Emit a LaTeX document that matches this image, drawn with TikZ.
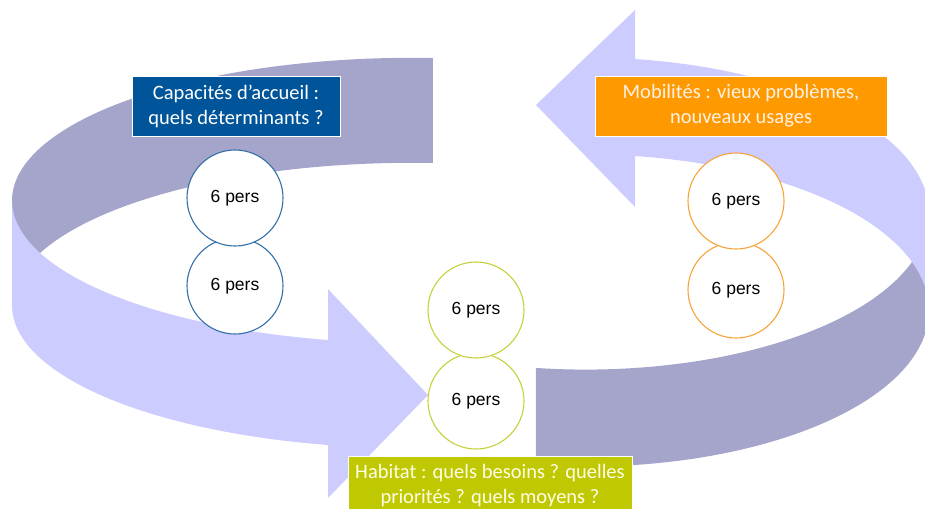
\documentclass[tikz,border=0pt]{standalone}
\usepackage{fontspec}
\setmainfont{Carlito}
\newfontfamily\arialfont{Liberation Sans}
\usepackage{xcolor}
\usepackage{tikz}
\definecolor{bandback}{HTML}{A5A4CA}
\definecolor{bandfront}{HTML}{CCCCFF}
\definecolor{accueilblue}{HTML}{00559A}
\definecolor{mobiorange}{HTML}{FF9900}
\definecolor{habigreen}{HTML}{BFC800}
\definecolor{ringblue}{HTML}{3470A8}
\definecolor{ringgreen}{HTML}{C6D03A}
\definecolor{ringorange}{HTML}{F8A33A}
\tikzstyle{theme}=[
    rectangle,
    draw=white,
    text centered,
    align=center,
    minimum height=60pt,
    inner sep=0pt,
    font=\fontsize{20.5}{25}\selectfont]
\tikzstyle{group}=[
    circle,
    draw,
    fill=white,
    line width=1.1pt,
    minimum size=96pt,
    inner sep=0pt,
    text=black,
    font=\arialfont\fontsize{17.5}{20}\selectfont]

\begin{document}
\begin{tikzpicture}[x=1pt,y=-1pt]
    \clip (0,0) rectangle (925,508);

    % left arrow: back side, then front side with head
    \fill[bandback] plot[domain=-87:-180,samples=60] ({412+400*cos(\x)},{200.5+142.7*sin(\x)})
      -- plot[domain=-180:-87,samples=60] ({412+400*cos(\x)},{305.5+142.7*sin(\x)}) -- cycle;
    \fill[bandfront] plot[domain=180:102.1,samples=60] ({412+400*cos(\x)},{200.5+142.7*sin(\x)})
      -- (328,289) -- (428,395) -- (328,498)
      -- plot[domain=102.1:180,samples=60] ({412+400*cos(\x)},{305.5+142.7*sin(\x)}) -- cycle;

    % right arrow
    \fill[bandback] plot[domain=0:98.3,samples=60] ({585.5+343.5*cos(\x)},{213.5+156.1*sin(\x)})
      -- plot[domain=98.3:0,samples=60] ({585.5+343.5*cos(\x)},{310.5+156.1*sin(\x)}) -- cycle;
    \fill[bandfront] plot[domain=-81.7:0,samples=60] ({585.5+343.5*cos(\x)},{213.5+156.1*sin(\x)})
      -- plot[domain=0:-81.7,samples=60] ({585.5+343.5*cos(\x)},{310.5+156.1*sin(\x)})
      -- (635,207) -- (536,105) -- (635,10) -- cycle;

    \node[theme, fill=accueilblue, text=white, minimum width=208pt] (accueil) at (236,106)
      {Capacités d’accueil :\\quels déterminants ?};
    \node[theme, fill=mobiorange, text=white!90!orange, minimum width=292pt] (mobilites) at (741,106)
      {Mobilités : vieux problèmes,\\nouveaux usages};
    \node[theme, fill=habigreen, text=white!90!yellow, minimum width=284pt] (habitat) at (490,486)
      {Habitat : quels besoins ? quelles\\priorités ? quels moyens ?};

    \node[group, draw=ringblue] (accueilB) at (235,286) {6 pers};
    \node[group, draw=ringblue] (accueilA) at (235,198) {6 pers};
    \node[group, draw=ringgreen] (habitatB) at (476,401) {6 pers};
    \node[group, draw=ringgreen] (habitatA) at (476,310) {6 pers};
    \node[group, draw=ringorange] (mobilitesB) at (736,290) {6 pers};
    \node[group, draw=ringorange] (mobilitesA) at (736,201) {6 pers};
\end{tikzpicture}
\end{document}
